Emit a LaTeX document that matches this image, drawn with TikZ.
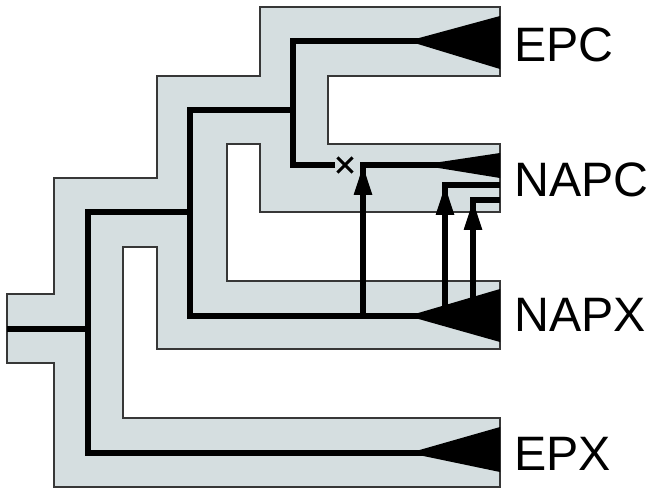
\documentclass[tikz,border=0pt]{standalone}
\usepackage{fontspec}
\setmainfont{Liberation Sans}
\definecolor{TubeGrey}{RGB}{213, 222, 224}
\definecolor{EdgeGrey}{RGB}{55, 55, 55}
\usetikzlibrary{arrows.meta, shapes.misc}

\begin{document}
\begin{tikzpicture}[x=0.02cm, y=-0.02cm,
  tube/.style={fill=TubeGrey, draw=EdgeGrey, line width=0.7pt},
  gene/.style={black, line width=3.2pt, line join=miter},
  fan/.style={fill=black},
  garr/.style={gene, -{Triangle[length=0.6cm, width=0.34cm]}},
  lost/.style={cross out, draw, line width=1.8pt, minimum size=0.24cm, inner sep=0pt},
  lab/.style={font=\fontsize{27.5}{31}\selectfont, anchor=west, inner sep=0pt}]
\useasboundingbox (0,0) rectangle (653,494);
% species tree
\draw[tube] (260,7) -| (500,76) -| (328,144) -| (500,212) -| (260,144) -| (227,281) -| (500,349)
  -| (157,247) -| (123,418) -| (500,487) -| (54,363) -| (7,294) -| (54,178) -| (157,76) -| (260,7) -- cycle;
% gene tree
\coordinate (root) at (7,329);
\coordinate (sA) at (88,212);
\coordinate (sB) at (190,110);
\coordinate (sC) at (293,41);
\coordinate (epc) at (500,41);
\coordinate (napx) at (500,316);
\coordinate (epx) at (500,453);
\coordinate (loss) at (335,165);
\coordinate (napc1) at (500,165);
\coordinate (napc2) at (500,185);
\coordinate (napc3) at (500,200);
\coordinate (g1) at (363,316);
\coordinate (g2) at (445,310);
\coordinate (g3) at (473,302);
\fill[fan] (408,41) -- (500,16) -- (500,69) -- cycle;
\fill[fan] (420,165) -- (500,153) -- (500,178) -- cycle;
\fill[fan] (408,316) -- (500,289) -- (500,342) -- cycle;
\fill[fan] (409,453) -- (500,427) -- (500,472) -- cycle;
\draw[gene] (epx) -| (sA) -| (sB) -| (sC) -- (epc);
\draw[gene] (root) -- (root -| sA);
\draw[gene] (napx) -| (sB);
\draw[gene] (loss) -| (sC);
\node[lost] (lossmark) at (345,165) {};
% introgression
\draw[gene] (g1) |- (napc1);
\draw[gene] (g2) |- (napc2);
\draw[gene] (g3) |- (napc3);
\draw[garr] (g1) -- (g1 |- napc1);
\draw[garr] (g2) -- (g2 |- napc2);
\draw[garr] (g3) -- (g3 |- napc3);
% labels
\node[lab] (epclab) at (514,44.5) {EPC};
\node[lab] (napclab) at (514,180) {NAPC};
\node[lab] (napxlab) at (514,315) {NAPX};
\node[lab] (epxlab) at (514,454) {EPX};
\end{tikzpicture}
\end{document}
